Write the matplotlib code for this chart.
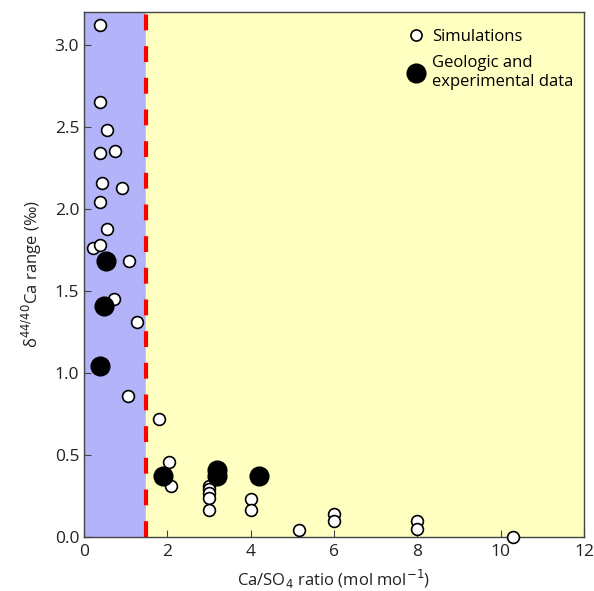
import numpy as np
import matplotlib.pyplot as plt

plt.rcParams['font.family'] = ['Open Sans', 'DejaVu Sans']

# simulations (open circles)
sim_x = [0.38, 0.38, 0.55, 0.74, 0.38, 0.43, 0.91, 0.38, 0.55, 0.22, 0.38, 1.08,
         0.72, 1.27, 1.06, 1.8, 2.04, 2.08, 3.0, 3.0, 3.0, 3.0, 3.0, 4.0, 4.0,
         5.15, 6.0, 6.0, 8.0, 8.0, 10.3]
sim_y = [3.12, 2.65, 2.48, 2.35, 2.34, 2.16, 2.13, 2.04, 1.88, 1.76, 1.78, 1.68,
         1.45, 1.31, 0.86, 0.72, 0.46, 0.31, 0.31, 0.29, 0.27, 0.24, 0.165, 0.23, 0.165,
         0.045, 0.14, 0.10, 0.10, 0.05, 0.0]

# geologic and experimental data (filled circles)
geo_x = [0.53, 0.48, 0.38, 1.9, 3.2, 3.2, 4.2]
geo_y = [1.68, 1.41, 1.04, 0.37, 0.41, 0.37, 0.37]

threshold = 1.5

fig = plt.figure(figsize=(5.94, 5.91), dpi=100)
ax = fig.add_axes([0.1414, 0.0914, 0.8418, 0.8883])

ax.axvspan(0, threshold, color='#b3b3fa', zorder=0)
ax.axvspan(threshold, 12, color='#ffffc2', zorder=0)
ax.axvline(threshold, color='#ff0000', lw=3, ls=(0, (3.8, 3.8)), zorder=1)

ax.plot(sim_x, sim_y, 'o', ms=8.5, mfc='white', mec='black', mew=1.2,
        clip_on=False, zorder=3, label='Simulations')
ax.plot(geo_x, geo_y, 'o', ms=13.5, mfc='black', mec='black',
        clip_on=False, zorder=4, label='Geologic and\nexperimental data')

ax.set_xlim(0, 12)
ax.set_ylim(0, 3.20)
ax.set_xticks(range(0, 13, 2))
ax.set_yticks(np.arange(0, 3.01, 0.5))
ax.yaxis.set_major_formatter(plt.FormatStrFormatter('%.1f'))
ax.tick_params(direction='in', labelsize=12.5, length=5, colors='#444444', labelcolor='#222222')
ax.tick_params(axis='x', pad=5)
ax.set_xlabel('Ca/SO$_4$ ratio (mol mol$^{-1}$)', fontsize=12, color='#222222', labelpad=6)
ax.set_ylabel('δ$^{44/40}$Ca range (‰)', fontsize=12, color='#222222', labelpad=8)
for s in ax.spines.values():
    s.set_color('#444444')
    s.set_linewidth(1.0)

leg = ax.legend(loc='upper left', bbox_to_anchor=(0.634, 0.98), frameon=False,
                fontsize=12, handlelength=1.0, handletextpad=0.45,
                borderaxespad=0.0, labelspacing=0.6)
leg.get_texts()[1].set_linespacing(1.25)
leg.legend_handles[0].set_markersize(8)

fig.savefig('out.png', dpi=100)
